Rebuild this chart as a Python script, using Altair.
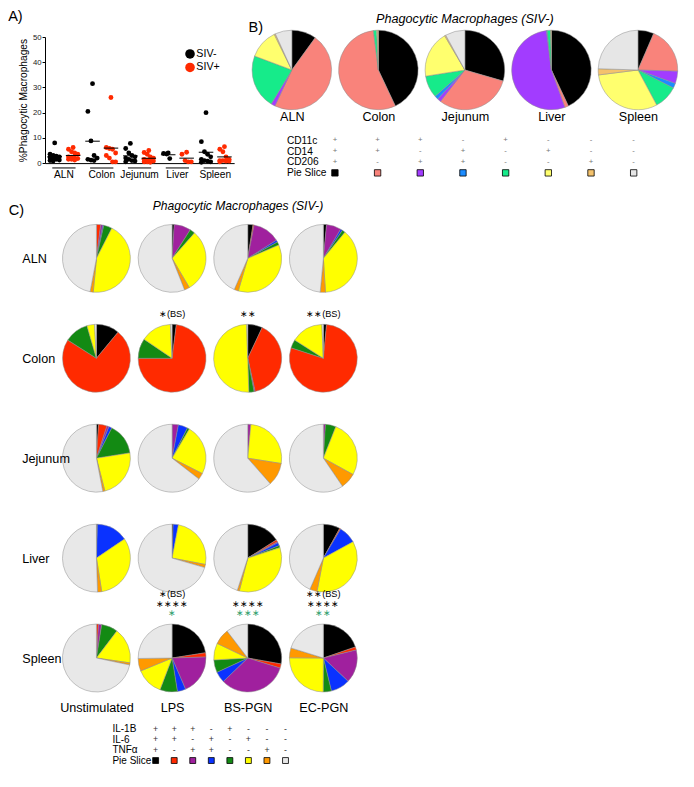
import altair as alt
import pandas as pd

K = 0.97


def P(v):
    return round(v * K, 2)


FONT = "Liberation Sans"
NARROW = "Liberation Sans Narrow, Arial Narrow, Nimbus Sans Narrow, Liberation Sans"

# ---------------- Panel A data ----------------
a_tissues = ["ALN", "Colon", "Jejunum", "Liver", "Spleen"]
a_siv_neg = {
    "ALN": [8.0, 3.5, 3.0, 2.8, 2.5, 2.2, 1.8, 1.5, 1.2, 1.0, 0.8],
    "Colon": [31.5, 20.5, 8.8, 3.0, 2.0, 1.5, 1.2, 1.0],
    "Jejunum": [7.8, 5.8, 4.0, 3.0, 2.5, 2.0, 1.5, 1.0, 0.8, 0.5],
    "Liver": [4.0, 3.8, 3.6, 1.8],
    "Spleen": [20.0, 8.5, 4.5, 3.5, 2.5, 1.5, 1.0, 0.8, 0.5, 0.3],
}
a_siv_pos = {
    "ALN": [6.2, 5.5, 4.5, 4.0, 3.5, 2.5, 2.2, 2.0, 1.8, 1.5, 1.5, 1.2],
    "Colon": [26.0, 6.2, 5.8, 5.5, 4.0, 3.0, 2.0, 0.5, 0.5],
    "Jejunum": [5.0, 4.2, 3.5, 2.5, 2.0, 1.5, 1.2, 1.0, 0.8, 0.5, 0.5, 0.3],
    "Liver": [4.3, 3.5, 1.0, 0.5, 0.5],
    "Spleen": [6.5, 5.5, 4.5, 2.5, 1.5, 1.0, 1.0, 0.8, 0.8, 0.5],
}
a_status = ["SIV-", "SIV+"]
a_colors = ["#000000", "#FF2A00"]
a_yticks = [0, 10, 20, 30, 40, 50]

# ---------------- Panel B data ----------------
b_tissues = ["ALN", "Colon", "Jejunum", "Liver", "Spleen"]
b_slices = [1, 2, 3, 4, 5, 6, 7, 8]
b_colors = ["#000000", "#F9837B", "#A23CFF", "#1C8CFF", "#16EB8A", "#FFFF6E", "#F4C26C", "#E6E6E6"]
b_values = {
    "ALN": [10, 47, 1.7, 0, 22, 12, 0.5, 6.8],
    "Colon": [43, 55, 0, 0, 1.3, 0.4, 0.3, 0],
    "Jejunum": [29.5, 31, 1.5, 1.5, 9, 19, 0.5, 8],
    "Liver": [43, 1.5, 53.5, 0.3, 1.4, 0, 0.3, 0],
    "Spleen": [6.5, 19, 5, 2, 9.7, 30.8, 2.5, 24.5],
}
b_markers = ["CD11c", "CD14", "CD206"]
b_signs = {
    "CD11c": ["+", "+", "+", "-", "+", "-", "-", "-"],
    "CD14": ["+", "+", "-", "+", "-", "+", "-", "-"],
    "CD206": ["+", "-", "+", "+", "-", "-", "+", "-"],
}
b_title = "Phagocytic Macrophages (SIV-)"

# ---------------- Panel C data ----------------
c_tissues = ["ALN", "Colon", "Jejunum", "Liver", "Spleen"]
c_stims = ["Unstimulated", "LPS", "BS-PGN", "EC-PGN"]
c_colors = ["#000000", "#FF2A00", "#A0209E", "#0A32FF", "#138A13", "#FFFF00", "#FF9900", "#E8E8E8"]
c_values = {
    "ALN": {
        "Unstimulated": [0, 2, 1, 0.5, 4, 44, 1.5, 47],
        "LPS": [1, 0, 8, 0, 2.5, 30, 2.5, 56],
        "BS-PGN": [2.5, 0.5, 13, 1, 1.5, 36, 2, 43.5],
        "EC-PGN": [1.5, 0, 7, 1, 1.5, 38, 2.5, 48.5],
    },
    "Colon": {
        "Unstimulated": [11, 73, 0, 0, 11.5, 3.6, 0, 0.9],
        "LPS": [2, 73, 0, 0, 9.5, 14.7, 0, 0.8],
        "BS-PGN": [7, 39.5, 0.5, 0, 2.5, 50, 0, 0.5],
        "EC-PGN": [1.5, 78.5, 0, 0, 4, 15.3, 0, 0.7],
    },
    "Jejunum": {
        "Unstimulated": [1, 4, 1, 1.5, 15, 23.5, 1, 53],
        "LPS": [0, 0, 3, 4.5, 1, 24, 3, 64.5],
        "BS-PGN": [0, 0, 1.5, 0, 0, 26, 11, 61.5],
        "EC-PGN": [0, 0, 1, 0, 5, 27, 7.5, 59.5],
    },
    "Liver": {
        "Unstimulated": [0.5, 0, 0, 15, 0, 32, 2, 50.5],
        "LPS": [0.5, 0, 0, 2.5, 0, 25, 1.5, 70.5],
        "BS-PGN": [16, 1, 0.5, 1.5, 1, 34, 1, 45],
        "EC-PGN": [8, 0.5, 0, 8.5, 0, 36, 3.5, 43.5],
    },
    "Spleen": {
        "Unstimulated": [0, 1, 1.5, 0, 7.8, 17, 1, 71.7],
        "LPS": [22.5, 2, 19, 4, 8.3, 13, 6, 25.2],
        "BS-PGN": [27.8, 2, 33, 5.3, 6, 8, 7.5, 10.4],
        "EC-PGN": [19.7, 1.5, 15.8, 9.2, 3.9, 25, 4.7, 20.2],
    },
}
c_markers = ["IL-1B", "IL-6", "TNFα"]
c_signs = {
    "IL-1B": ["+", "+", "+", "-", "+", "-", "-", "-"],
    "IL-6": ["+", "+", "-", "+", "-", "+", "-", "-"],
    "TNFα": ["+", "-", "+", "+", "-", "-", "+", "-"],
}
c_ann_tissue = ["Colon", "Colon", "Colon", "Spleen", "Spleen", "Spleen", "Spleen", "Spleen", "Spleen", "Spleen", "Spleen"]
c_ann_stim = ["LPS", "BS-PGN", "EC-PGN", "LPS", "LPS", "LPS", "BS-PGN", "BS-PGN", "EC-PGN", "EC-PGN", "EC-PGN"]
c_ann_level = [0, 0, 0, 2, 1, 0, 1, 0, 2, 1, 0]
c_ann_text = ["∗(BS)", "∗∗", "∗∗(BS)", "∗(BS)", "∗∗∗∗", "∗", "∗∗∗∗", "∗∗∗", "∗∗(BS)", "∗∗∗∗", "∗∗"]
c_ann_green = [0, 0, 0, 0, 0, 1, 0, 1, 0, 0, 1]

# ---------------- tables ----------------
rows = []
for t in a_tissues:
    for v in a_siv_neg[t]:
        rows.append((t, "SIV-", v))
    for v in a_siv_pos[t]:
        rows.append((t, "SIV+", v))
df_a = pd.DataFrame(rows, columns=["tissue", "status", "value"])

df_b = pd.DataFrame(
    [(t, s, b_values[t][i], "B") for t in b_tissues for i, s in enumerate(b_slices)],
    columns=["tissue", "bslice", "value", "grp"],
)
df_blab = pd.DataFrame({"tissue": [b_tissues[0]], "grp": ["B"], "label": ["B)"]})
df_btitle = pd.DataFrame({"tissue": [b_tissues[2]], "grp": ["B"], "label": [b_title]})
df_bt = pd.DataFrame(
    [(m, s, b_signs[m][i]) for m in b_markers for i, s in enumerate(b_slices)],
    columns=["row", "col", "sign"],
)
df_bsq = pd.DataFrame({"row": ["Pie Slice"] * 8, "col": b_slices, "bslice": b_slices})

df_c = pd.DataFrame(
    [(t, st, i + 1, c_values[t][st][i]) for t in c_tissues for st in c_stims for i in range(8)],
    columns=["tissue", "stim", "cslice", "value"],
)
df_ct = pd.DataFrame(
    [(m, s, c_signs[m][i]) for m in c_markers for i, s in enumerate(b_slices)],
    columns=["row", "col", "sign"],
)
df_csq = pd.DataFrame({"row": ["Pie Slice"] * 8, "col": b_slices, "cslice": b_slices})
df_ann = pd.DataFrame({
    "tissue": c_ann_tissue, "stim": c_ann_stim, "level": c_ann_level,
    "text": c_ann_text, "green": c_ann_green,
})

# ---------------- Panel A chart ----------------
x_a = alt.X(
    "tissue:N", sort=a_tissues,
    scale=alt.Scale(paddingInner=0, paddingOuter=0),
    axis=alt.Axis(labelAngle=0, ticks=False, domainColor="black", labelFontSize=P(10.5),
                  labelPadding=P(7), title=None, labelColor="black"),
)
ax_ya = alt.Axis(values=a_yticks, labelFontSize=P(8), tickSize=P(3), grid=False,
                 domainColor="black", tickColor="black", labelColor="#222", labelOverlap=False,
                 title="%Phagocytic Macrophages", titleFontSize=P(10.5), titleFontWeight="normal",
                 titlePadding=P(4), labelPadding=1)
sc_ya = alt.Scale(domain=[0, 50], nice=False)
xo_scale = alt.Scale(domain=[-19.5, 19.5])

a_points = alt.Chart(df_a).transform_window(
    rn="row_number()", groupby=["tissue", "status"],
    sort=[alt.SortField("value", order="descending")],
).transform_calculate(
    grp_off="datum.status === 'SIV+' ? 9.5 : -9.5"
).transform_calculate(
    jx="datum.grp_off + (datum.rn === 1 ? 0 : (((datum.rn - 2) % 4) - 1.5) * 3.2)"
).mark_circle(size=P(24), opacity=1).encode(
    x=x_a,
    xOffset=alt.XOffset("jx:Q", scale=xo_scale),
    y=alt.Y("value:Q", scale=sc_ya, axis=ax_ya),
    color=alt.Color("status:N", scale=alt.Scale(domain=a_status, range=a_colors),
                    legend=alt.Legend(title=None, orient="none", legendX=P(144), legendY=P(12),
                                      symbolSize=P(95), labelFontSize=P(11), symbolType="circle",
                                      rowPadding=P(1.5), labelOffset=1, symbolStrokeWidth=0)),
)
a_means = alt.Chart(df_a).transform_calculate(
    grp_off="datum.status === 'SIV+' ? 9.5 : -9.5"
).mark_tick(color="black", thickness=1, size=P(15), opacity=1).encode(
    x=x_a,
    xOffset=alt.XOffset("grp_off:Q", scale=xo_scale),
    y=alt.Y("mean(value):Q", scale=sc_ya, axis=ax_ya, title="%Phagocytic Macrophages"),
)
a_under = alt.Chart(pd.DataFrame({"tissue": a_tissues})).mark_tick(
    color="black", thickness=1, size=P(24), yOffset=P(5), opacity=1
).encode(x=x_a, y=alt.YDatum(0, scale=sc_ya, axis=ax_ya, type="quantitative"))

A_chart = alt.layer(a_points, a_means, a_under).properties(
    width=P(195), height=P(130),
    title=alt.Title("A)", anchor="start", frame="group", dx=-P(38), offset=P(9),
                    fontSize=P(15), fontWeight="normal"),
)
A_block = alt.vconcat(A_chart)

# ---------------- Panel B chart ----------------
x_bp = alt.X("tissue:N", sort=b_tissues, scale=alt.Scale(domain=b_tissues, padding=0.5),
             axis=alt.Axis(orient="bottom", labelAngle=0, ticks=False, domain=False,
                           labelFontSize=P(13), labelPadding=P(14), labelBaseline="middle",
                           title=None, labelColor="black"))
y_bp = alt.Y("grp:N", axis=None)

B_arcs = alt.Chart(df_b).transform_filter("datum.value > 0").transform_stack(
    stack="value", groupby=["tissue"], as_=["t0", "t1"], offset="normalize",
    sort=[alt.SortField("bslice", order="ascending")],
).mark_arc(radius=P(41), stroke="#8c8c8c", strokeWidth=0.5).encode(
    x=x_bp, y=y_bp,
    theta=alt.Theta("t0:Q", scale=alt.Scale(domain=[0, 1])),
    theta2="t1:Q",
    color=alt.Color("bslice:N", scale=alt.Scale(domain=b_slices, range=b_colors), legend=None),
)
B_lab = alt.Chart(df_blab).mark_text(
    align="left", baseline="top", dx=-P(44.6), dy=-P(50), fontSize=P(15), color="black"
).encode(x=x_bp, y=y_bp, text="label:N")
B_tit = alt.Chart(df_btitle).mark_text(
    align="center", baseline="middle", dy=-P(53), fontSize=P(13), fontStyle="italic", color="black"
).encode(x=x_bp, y=y_bp, text="label:N")

B_pies = alt.layer(B_arcs, B_lab, B_tit).properties(width=P(446), height=P(68))

bt_rows = b_markers + ["Pie Slice"]
x_bt = alt.X("col:O", scale=alt.Scale(domain=b_slices, range=[P(67), P(419)]), axis=None)
y_bt = alt.Y("row:N", sort=bt_rows, scale=alt.Scale(domain=bt_rows),
             axis=alt.Axis(orient="left", labelAlign="left", labelPadding=-P(39), tickSize=0,
                           ticks=False, domain=False, labelFontSize=P(10.5), title=None,
                           labelColor="black"))
B_text = alt.Chart(df_bt).mark_text(fontSize=P(8), color="#777").encode(x=x_bt, y=y_bt, text="sign:N")
B_sq = alt.Chart(df_bsq).mark_square(size=P(42), stroke="black", strokeWidth=0.8, opacity=1).encode(
    x=x_bt, y=y_bt,
    color=alt.Color("bslice:N", scale=alt.Scale(domain=b_slices, range=b_colors), legend=None),
)
B_table = alt.layer(B_text, B_sq).properties(width=P(419), height=P(45))

B_block = alt.vconcat(B_pies, B_table, spacing=P(11)).resolve_scale(
    x="independent", y="independent", color="independent")

# ---------------- Panel C chart ----------------
x_c = alt.X("stim:N", sort=c_stims, scale=alt.Scale(domain=c_stims, padding=0.68),
            axis=alt.Axis(orient="bottom", labelAngle=0, ticks=False, domain=False,
                          labelFontSize=P(13), labelPadding=0, labelBaseline="middle",
                          labelFont=NARROW, title=None, labelColor="black"))
y_c = alt.Y("tissue:N", sort=c_tissues, scale=alt.Scale(domain=c_tissues, padding=0.5),
            axis=alt.Axis(orient="left", labelAlign="left", labelPadding=P(24), ticks=False,
                          tickSize=0, domain=False, labelFontSize=P(13), labelColor="black",
                          labelFont=NARROW, zindex=1,
                          title="C)", titleAngle=0, titleX=-P(38), titleY=-P(5), titleAlign="left",
                          titleBaseline="top", titleFontSize=P(15), titleFontWeight="normal"))

C_pies = alt.Chart(df_c).transform_filter("datum.value > 0").transform_stack(
    stack="value", groupby=["tissue", "stim"], as_=["t0", "t1"], offset="normalize",
    sort=[alt.SortField("cslice", order="ascending")],
).mark_arc(radius=P(35), stroke="#8c8c8c", strokeWidth=0.5).encode(
    x=x_c, y=y_c,
    theta=alt.Theta("t0:Q", scale=alt.Scale(domain=[0, 1])),
    theta2="t1:Q",
    color=alt.Color("cslice:N", scale=alt.Scale(domain=b_slices, range=c_colors), legend=None),
)

ann_layers = []
for lvl, grn in [(0, 0), (0, 1), (1, 0), (2, 0)]:
    ann_layers.append(
        alt.Chart(df_ann).transform_filter(
            f"datum.level === {lvl} && datum.green === {grn}"
        ).mark_text(fontSize=P(9.5), dy=-P(46 + 10 * lvl), font=NARROW,
                    color="#2E9E6E" if grn else "black").encode(x=x_c, y=y_c, text="text:N")
    )

C_grid = alt.layer(C_pies, *ann_layers).properties(
    width=P(340), height=P(515),
    title=alt.Title("Phagocytic Macrophages (SIV-)", fontStyle="italic", fontWeight="normal",
                    fontSize=P(12.5), anchor="start", frame="group", dx=P(111), dy=P(10), offset=0),
)

ct_rows = c_markers + ["Pie Slice"]
x_ct = alt.X("col:O", scale=alt.Scale(domain=b_slices, range=[P(104.5), P(257.5)]), axis=None)
y_ct = alt.Y("row:N", sort=ct_rows, scale=alt.Scale(domain=ct_rows),
             axis=alt.Axis(orient="left", labelAlign="left", labelPadding=-P(69), tickSize=0,
                           ticks=False, domain=False, labelFontSize=P(10.3), title=None,
                           labelFont=NARROW, labelColor="black"))
C_text = alt.Chart(df_ct).mark_text(fontSize=P(9), color="#333").encode(x=x_ct, y=y_ct, text="sign:N")
C_sq = alt.Chart(df_csq).mark_square(size=P(36), stroke="black", strokeWidth=0.8, opacity=1).encode(
    x=x_ct, y=y_ct,
    color=alt.Color("cslice:N", scale=alt.Scale(domain=b_slices, range=c_colors), legend=None),
)
C_table = alt.layer(C_text, C_sq).properties(width=P(257.5), height=P(44))

C_block = alt.vconcat(C_grid, C_table, spacing=P(8)).resolve_scale(
    x="independent", y="independent", color="independent")

row1 = alt.hconcat(A_block, B_block, spacing=P(14)).resolve_scale(
    x="independent", y="independent", color="independent")

chart = alt.vconcat(row1, C_block, spacing=P(19)).resolve_scale(
    x="independent", y="independent", color="independent"
).properties(padding=0).configure(font=FONT).configure_view(stroke=None).configure_axis(
    labelFont=FONT, titleFont=FONT
).configure_title(font=FONT, color="black").configure_legend(labelFont=FONT)

chart.save("out.html", embed_options={"renderer": "svg", "actions": False})
